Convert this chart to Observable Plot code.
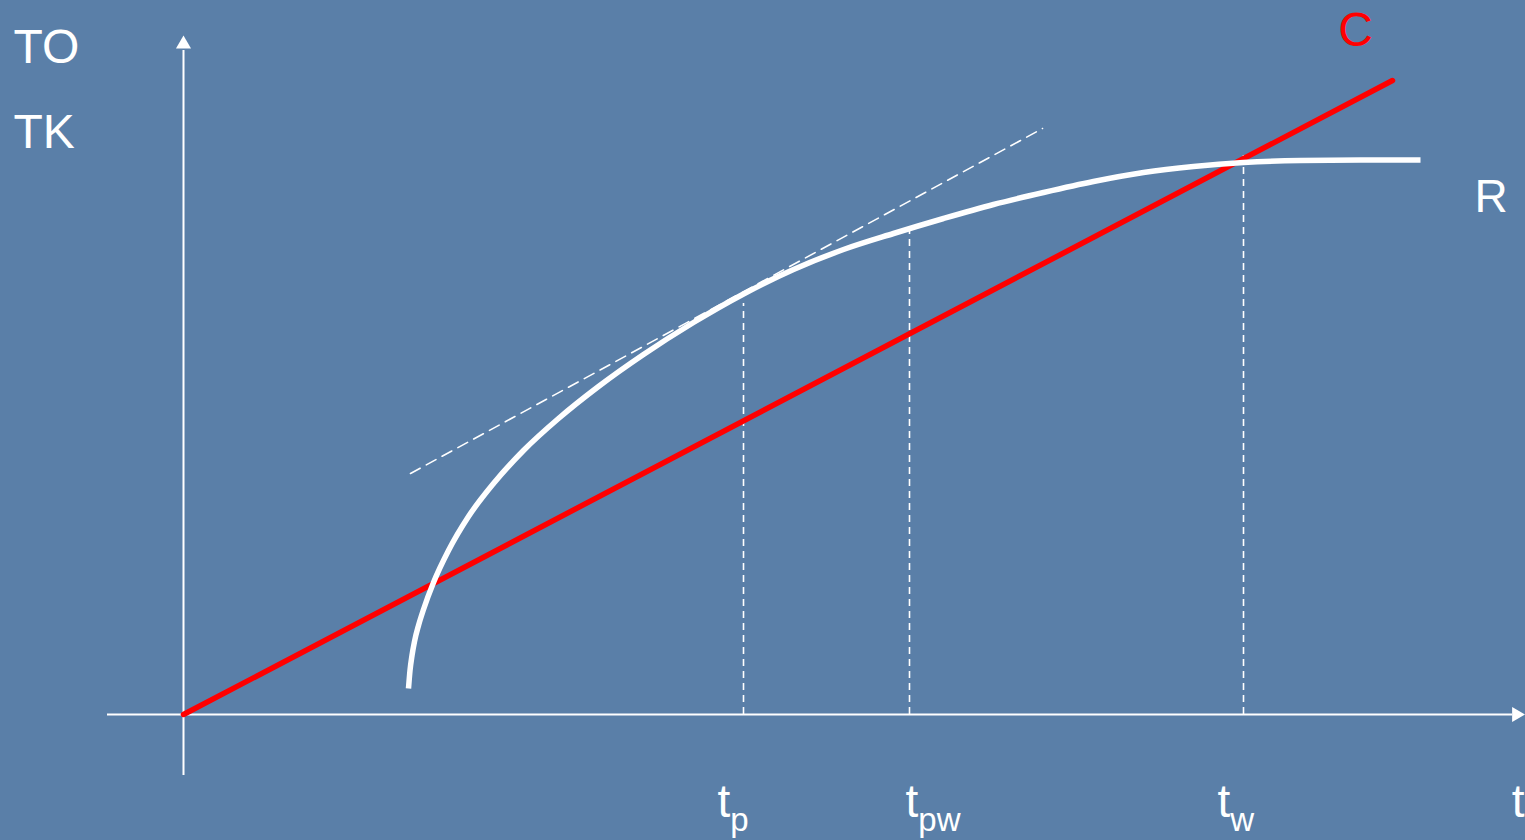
<!DOCTYPE html>
<html>
<head>
<meta charset="utf-8">
<script src="https://cdn.jsdelivr.net/npm/d3@7"></script>
<script src="https://cdn.jsdelivr.net/npm/@observablehq/plot@0.6"></script>
<style>
  html, body { margin: 0; padding: 0; background: #5a7fa8; overflow: hidden; }
  #chart { width: 1525px; height: 840px; }
</style>
</head>
<body>
<div id="chart"></div>
<script>
// ---------------- DATA ----------------
// Cost line C (TK): straight line through the origin
const costX = [0, 120.9];
const costY = [0, 63.4];

// Revenue curve R (TO)
const revenueX = [22.5, 22.65, 22.85, 23.1, 23.5, 24.0, 25.0, 26.5, 28.5, 31.0, 34.0, 37.5, 41.5, 46.0, 51.0, 56.0, 61.0, 66.0, 71.0, 76.0, 81.0, 86.0, 91.0, 96.0, 101.0, 106.0, 111.7, 117.7, 123.7];
const revenueY = [2.6, 4.4, 5.9, 7.3, 8.9, 10.5, 13.2, 16.4, 19.8, 23.1, 26.4, 29.6, 32.8, 36.0, 39.2, 42.05, 44.5, 46.5, 48.1, 49.6, 51.0, 52.2, 53.3, 54.2, 54.8, 55.2, 55.4, 55.45, 55.45];

// Tangent to R at t_p (dashed)
const tangentX = [22.7, 85.9];
const tangentY = [24.1, 58.6];

// Marked times on the t axis
const tickNames = ["t_p", "t_pw", "t_w"];
const tickValues = [56.0, 72.6, 106.0];
const tickTops = [41.1, 48.4, 55.9];

// Axis and series labels
const yAxisLabels = ["TO", "TK"];
const xAxisLabel = "t";
const seriesLabels = ["C", "R"];

// ---------------- LAYOUT ----------------
const W = 1525, H = 840;
const xDomain = [-18.3, 134.2];
const yDomain = [-12.6, 71.4];
const FONT = "'Liberation Sans', Arial, Helvetica, sans-serif";
const RED = "#ff0000";
const BG = "#5a7fa8";
const tickLabelDx = [-26, -4, -26];

const costData = costX.map((x, i) => ({x, y: costY[i]}));
const revenueData = revenueX.map((x, i) => ({x, y: revenueY[i]}));
const tangentData = tangentX.map((x, i) => ({x, y: tangentY[i]}));
const tickData = tickValues.map((v, i) => ({x: v, top: tickTops[i], name: tickNames[i], dx: tickLabelDx[i]}));

const plot = Plot.plot({
  width: W,
  height: H,
  margin: 0,
  x: {domain: xDomain, axis: null},
  y: {domain: yDomain, axis: null},
  style: {background: BG, fontFamily: FONT, overflow: "visible"},
  marks: [
    // axes
    Plot.ruleY([0], {x1: -7.6, x2: 132.9, stroke: "white", strokeWidth: 2}),
    Plot.ruleX([0], {y1: -6.1, y2: 66.4, stroke: "white", strokeWidth: 2}),
    Plot.dot([{x: 133.3, y: 0}], {x: "x", y: "y", symbol: "triangle", r: 5.6, fill: "white", stroke: "none", rotate: 90}),
    Plot.dot([{x: 0, y: 67.03}], {x: "x", y: "y", symbol: "triangle", r: 5.6, fill: "white", stroke: "none"}),
    // vertical dashed markers
    Plot.ruleX(tickData, {x: "x", y1: 0, y2: "top", stroke: "white", strokeWidth: 1.6, strokeDasharray: "7,5"}),
    // tangent
    Plot.line(tangentData, {x: "x", y: "y", stroke: "white", strokeWidth: 1.6, strokeDasharray: "11,7"}),
    // cost line
    Plot.line(costData, {x: "x", y: "y", stroke: RED, strokeWidth: 5.5}),
    // revenue curve
    Plot.line(revenueData, {x: "x", y: "y", stroke: "white", strokeWidth: 5.5, curve: "monotone-x", strokeLinecap: "butt"}),
    // tick labels
    ...tickData.map(d => Plot.text([d], {x: "x", y: -8.8, text: "name", textAnchor: "start", dx: d.dx, fill: "white", fontSize: 46, className: "sublabel"})),
    // t axis label (at the right edge)
    Plot.text([xAxisLabel], {frameAnchor: "right", y: -8.8, text: d => d, textAnchor: "end", dx: -1, fill: "white", fontSize: 46}),
    // y axis labels
    Plot.text([yAxisLabels[0]], {x: -17.0, y: 66.7, text: d => d, textAnchor: "start", fill: "white", fontSize: 48}),
    Plot.text([yAxisLabels[1]], {x: -17.0, y: 58.2, text: d => d, textAnchor: "start", fill: "white", fontSize: 48}),
    // series labels
    Plot.text([seriesLabels[0]], {x: 117.2, y: 68.4, text: d => d, textAnchor: "middle", fill: RED, fontSize: 48}),
    Plot.text([seriesLabels[1]], {x: 129.1, y: 51.7, text: d => d, textAnchor: "start", fill: "white", fontSize: 46})
  ]
});

// subscripts
d3.select(plot).selectAll(".sublabel text").each(function() {
  const s = this.textContent;
  if (s.includes("_")) {
    const [base, sub] = s.split("_");
    this.textContent = base;
    d3.select(this).append("tspan").attr("dy", 14).attr("font-size", 33).text(sub);
  }
});

document.getElementById("chart").appendChild(plot);
</script>
</body>
</html>
